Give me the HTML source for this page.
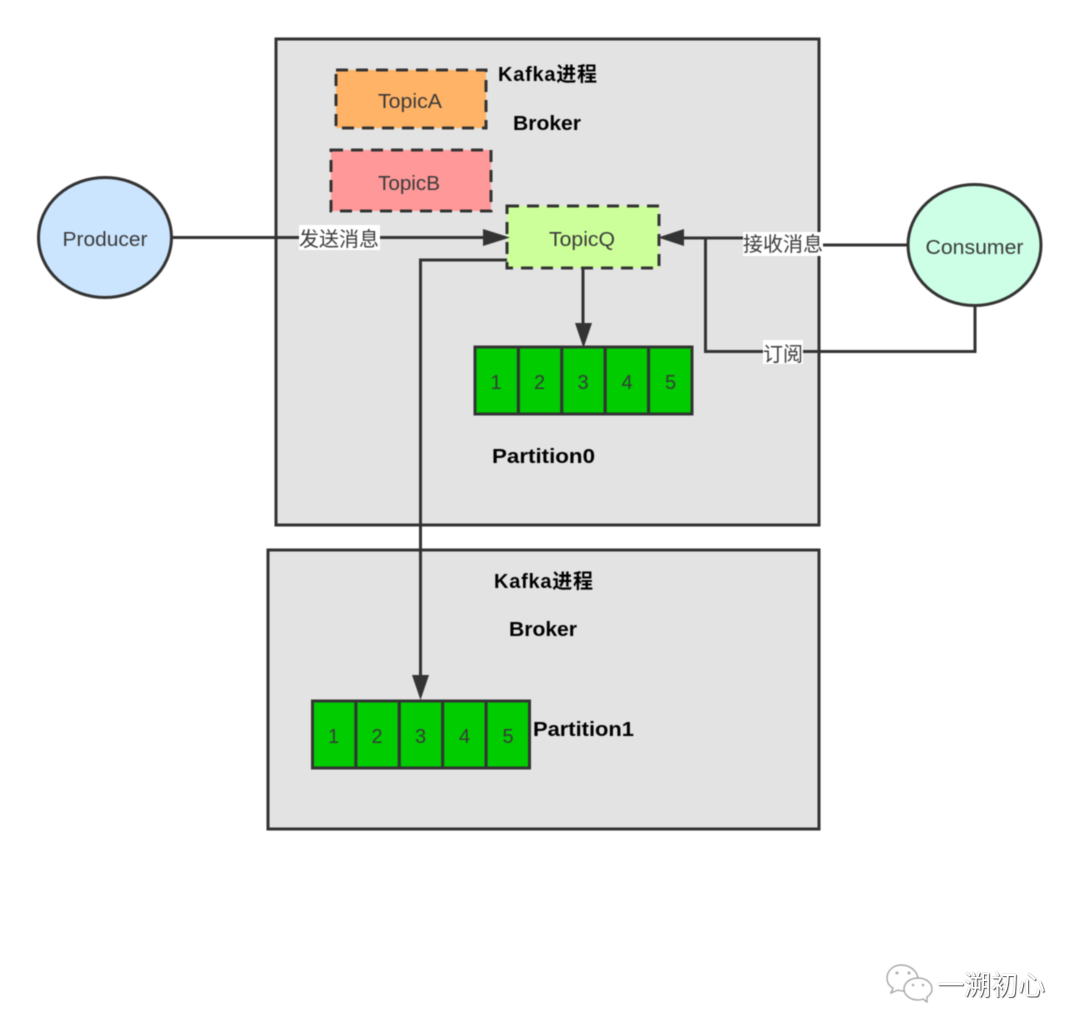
<!DOCTYPE html>
<html>
<head>
<meta charset="utf-8">
<style>
html,body{margin:0;padding:0;background:#fff;width:1080px;height:1034px;overflow:hidden}
svg{display:block;filter:blur(.4px)}
text{font-family:"Liberation Sans","Noto Sans CJK SC",sans-serif;fill:#3a3a3a}
.b{font-weight:bold;fill:#000;font-size:20px}
.n{font-size:20px;text-anchor:middle}
.l{font-size:20px;fill:#3a3a3a}
.s{stroke:#333;stroke-width:3;fill:none}
#wm{position:absolute;left:937px;top:968px;font:27px/36px "Liberation Sans","Noto Sans CJK SC",sans-serif;color:#fff;text-shadow:1px 1px 1px #555,0 0 1px #888;white-space:nowrap}
</style>
</head>
<body>
<svg width="1080" height="1034" viewBox="0 0 1080 1034" xmlns="http://www.w3.org/2000/svg">
<rect x="276" y="39" width="543" height="486" fill="#e3e3e3" stroke="#333" stroke-width="3"/>
<rect x="268" y="550" width="551" height="279" fill="#e3e3e3" stroke="#333" stroke-width="3"/>

<rect x="336" y="70" width="150" height="58" fill="#ffb366" stroke="#333" stroke-width="3" stroke-dasharray="12 8"/>
<rect x="331" y="150" width="160" height="61" fill="#ff9999" stroke="#333" stroke-width="3" stroke-dasharray="12 8"/>
<rect x="507" y="206" width="152" height="62" fill="#ccff99" stroke="#333" stroke-width="3" stroke-dasharray="12 8"/>

<ellipse cx="105" cy="237.500" rx="66.500" ry="60" fill="#cce5ff" stroke="#333" stroke-width="3"/>
<ellipse cx="974.500" cy="245" rx="66.500" ry="60.500" fill="#ccffe6" stroke="#333" stroke-width="3"/>

<path class="s" d="M172 237.500H490"/>
<path fill="#333" d="M483 229L510 237.500L483 246Z"/>
<path class="s" d="M907 245H760M760 238H680"/>
<path fill="#333" d="M684 229L658 237.500L684 246Z"/>
<path class="s" d="M975 305V351.500H705.500V238"/>
<path class="s" d="M583 268V330"/>
<path fill="#333" d="M575 323H592L583.500 348Z"/>
<path class="s" d="M507 260H420.500V682"/>
<path fill="#333" d="M412 675H429L420.500 700Z"/>

<g fill="#00cc00" stroke="#333" stroke-width="3">
<rect x="475" y="347" width="43.400" height="67"/>
<rect x="518.400" y="347" width="43.400" height="67"/>
<rect x="561.800" y="347" width="43.400" height="67"/>
<rect x="605.200" y="347" width="43.400" height="67"/>
<rect x="648.600" y="347" width="43.400" height="67"/>
<rect x="312.500" y="701" width="43.400" height="67"/>
<rect x="355.900" y="701" width="43.400" height="67"/>
<rect x="399.300" y="701" width="43.400" height="67"/>
<rect x="442.700" y="701" width="43.400" height="67"/>
<rect x="486.100" y="701" width="43.400" height="67"/>
</g>

<text class="n" x="410" y="108" textLength="64" lengthAdjust="spacingAndGlyphs">TopicA</text>
<text class="n" x="409" y="190" textLength="62" lengthAdjust="spacingAndGlyphs">TopicB</text>
<text class="n" x="582" y="246" textLength="66" lengthAdjust="spacingAndGlyphs">TopicQ</text>
<text class="n" x="105" y="246" textLength="85" lengthAdjust="spacingAndGlyphs">Producer</text>
<text class="n" x="974.500" y="254" textLength="98" lengthAdjust="spacingAndGlyphs">Consumer</text>
<text class="n" x="496" y="389">1</text>
<text class="n" x="539.500" y="389">2</text>
<text class="n" x="583" y="389">3</text>
<text class="n" x="627" y="389">4</text>
<text class="n" x="670.500" y="389">5</text>
<text class="n" x="333.500" y="743">1</text>
<text class="n" x="377" y="743">2</text>
<text class="n" x="420.500" y="743">3</text>
<text class="n" x="464.500" y="743">4</text>
<text class="n" x="508" y="743">5</text>

<text class="b" x="498" y="81" textLength="99">Kafka进程</text>
<text class="b" x="513" y="130" textLength="68" lengthAdjust="spacingAndGlyphs">Broker</text>
<text class="b" x="492" y="463" textLength="103" lengthAdjust="spacingAndGlyphs">Partition0</text>
<text class="b" x="494" y="588" textLength="99">Kafka进程</text>
<text class="b" x="509" y="636" textLength="68" lengthAdjust="spacingAndGlyphs">Broker</text>
<text class="b" x="533" y="736" textLength="101" lengthAdjust="spacingAndGlyphs">Partition1</text>

<rect x="299" y="225" width="81" height="25" fill="#fff"/>
<text class="l" x="299" y="246">发送消息</text>
<rect x="743" y="232" width="80" height="24" fill="#fff"/>
<text class="l" x="743" y="251">接收消息</text>
<rect x="763" y="340" width="40" height="24" fill="#fff"/>
<text class="l" x="763" y="361">订阅</text>

<g fill="#fff" stroke="#999" stroke-width="1.200">
<path d="M901 965c-8 0-14 6-14 13 0 5 2 8 6 10l-2 5 7-3c2 1 4 1 6 1 3 0 4 0 6-1 0-7 4-11 8-12-1-7-8-13-17-13z"/>
<path d="M918 978c-8 0-14 5-14 11s6 11 14 11c2 0 3 0 5-1l4 3 0-5c3-2 5-5 5-8 0-6-6-11-14-11z"/>
</g>
<g fill="#aaa">
<circle cx="897" cy="973" r="1.500"/><circle cx="909" cy="973" r="1.500"/>
<circle cx="913" cy="985" r="1.300"/><circle cx="923" cy="985" r="1.300"/>
</g>
</svg>
<div id="wm">一溯初心</div>
</body>
</html>
